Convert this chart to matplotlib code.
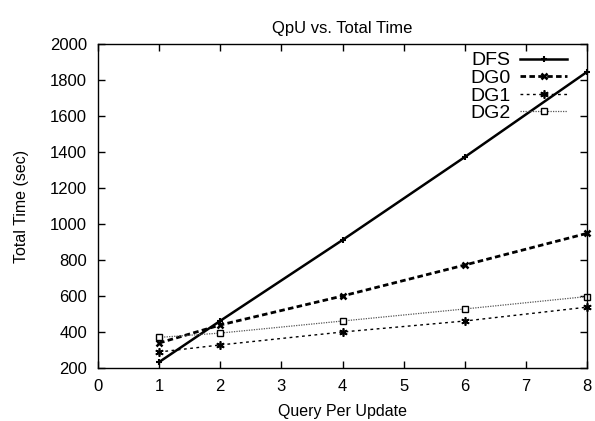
import matplotlib
matplotlib.use("Agg")
import matplotlib.pyplot as plt

plt.rcParams['font.family'] = ['Liberation Sans', 'DejaVu Sans']

qpu = [1, 2, 4, 6, 8]
dfs = [233, 462, 911, 1372, 1845]
dg0 = [339, 439, 600, 772, 948]
dg1 = [289, 328, 400, 461, 538]
dg2 = [370, 394, 461, 528, 597]

fig = plt.figure(figsize=(5.95, 4.21), dpi=100)
ax = fig.add_axes([0.1647, 0.1259, 0.8219, 0.7696])

l1, = ax.plot(qpu, dfs, color='black', lw=1.8, marker='+', ms=4, mew=1.5, clip_on=False)
l2, = ax.plot(qpu, dg0, color='black', lw=2.0, ls=(0, (2.0, 1.2)), marker='x', ms=5, mew=1.8,
              clip_on=False)
l3, = ax.plot(qpu, dg1, color='black', lw=1.0, ls=(0, (2.0, 2.5)), marker=(6, 2, 0), ms=6,
              mew=1.2, clip_on=False)
l4, = ax.plot(qpu, dg2, color='#555555', lw=0.9, ls=(0, (1, 1)), marker='s', ms=5, mew=1.0,
              mfc='white', mec='black', clip_on=False)

ax.set_xlim(0, 8)
ax.set_ylim(200, 2000)
ax.set_xticks(range(0, 9))
ax.set_yticks(range(200, 2001, 200))
ax.tick_params(direction='in', top=True, right=True, labelsize=12, length=5, width=1, pad=8)
for s in ax.spines.values():
    s.set_linewidth(1.0)

ax.set_title('QpU vs. Total Time', fontsize=12, pad=8)
ax.set_xlabel('Query Per Update', fontsize=11.5, labelpad=7)
ax.set_ylabel('Total Time (sec)', fontsize=11.5, labelpad=15)

leg = ax.legend([l1, l2, l3, l4], ['DFS', 'DG0', 'DG1', 'DG2'], loc='upper right',
                markerfirst=False, frameon=False, fontsize=14, handlelength=2.4,
                labelspacing=0.0, borderaxespad=0.0, handletextpad=0.5,
                bbox_to_anchor=(0.975, 1.0))

fig.savefig('out.png', dpi=100)
